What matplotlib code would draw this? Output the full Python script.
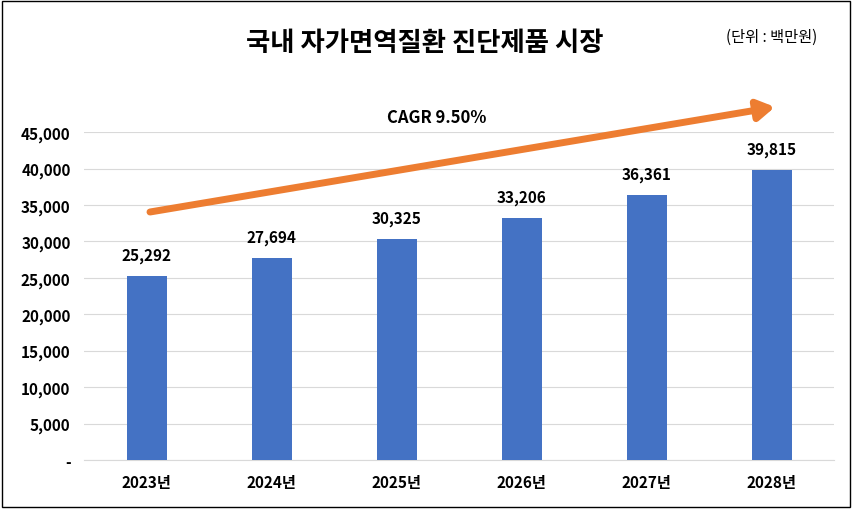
import matplotlib.pyplot as plt
from matplotlib.patches import Rectangle

plt.rcParams["font.family"] = ["Noto Sans CJK KR", "Noto Sans CJK JP", "Noto Sans CJK SC", "DejaVu Sans"]

years = ["2023년", "2024년", "2025년", "2026년", "2027년", "2028년"]
values = [25292, 27694, 30325, 33206, 36361, 39815]
yticks = [0, 5000, 10000, 15000, 20000, 25000, 30000, 35000, 40000, 45000]

fig = plt.figure(figsize=(8.53, 5.10), dpi=100)
ax = fig.add_axes([0.099, 0.096, 0.879, 0.643])

x = range(len(years))
ax.bar(x, values, width=0.32, color="#4472C4", zorder=3)
for i, v in zip(x, values):
    ax.text(i, v + 1800, f"{v:,}", ha="center", va="bottom", fontsize=11, fontweight="bold")

ax.set_xlim(-0.5, 5.5)
ax.set_ylim(0, 45000)
ax.set_yticks(yticks)
ax.set_yticklabels(["-"] + [f"{t:,}" for t in yticks[1:]], fontsize=11, fontweight="bold")
ax.set_xticks(list(x))
ax.set_xticklabels(years, fontsize=11, fontweight="bold")
ax.grid(axis="y", color="#D9D9D9", lw=0.8, zorder=0)
for s in ["top", "right", "left"]:
    ax.spines[s].set_visible(False)
ax.spines["bottom"].set_color("#D9D9D9")
ax.tick_params(length=0, pad=10)

fig.text(0.498, 0.915, "국내 자가면역질환 진단제품 시장", ha="center", va="center",
         fontsize=19, fontweight="bold")
fig.text(0.905, 0.927, "(단위 : 백만원)", ha="center", va="center", fontsize=11)
fig.text(0.512, 0.768, "CAGR 9.50%", ha="center", va="center", fontsize=12, fontweight="bold")

ax.annotate("", xy=(775 / 853, 1 - 108 / 510), xytext=(150 / 853, 1 - 213 / 510),
            xycoords="figure fraction", textcoords="figure fraction",
            arrowprops=dict(arrowstyle="-|>,head_length=1.0,head_width=0.6",
                            color="#ED7D31", lw=5, shrinkA=0, shrinkB=0))

fig.patches.append(Rectangle((0.002, 0.003), 0.995, 0.994, transform=fig.transFigure,
                             fill=False, ec="black", lw=1))

fig.savefig("out.png", dpi=100)
